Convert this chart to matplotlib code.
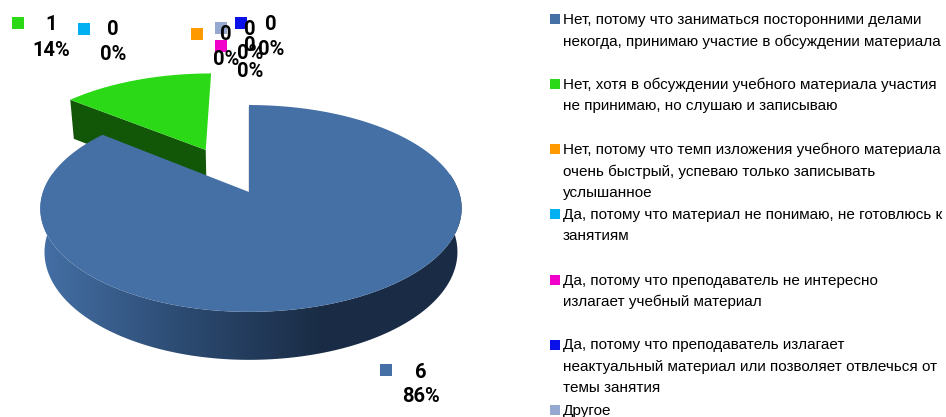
import numpy as np
import matplotlib
matplotlib.use('Agg')
import matplotlib.pyplot as plt
from matplotlib.patches import Polygon
from matplotlib.colors import LinearSegmentedColormap

# Survey answers
answers = [
    ['Нет, потому что заниматься посторонними делами', 'некогда, принимаю участие в обсуждении материала'],
    ['Нет, хотя в обсуждении учебного материала участия', 'не принимаю, но слушаю и записываю'],
    ['Нет, потому что темп изложения учебного материала', 'очень быстрый, успеваю только записывать', 'услышанное'],
    ['Да, потому что материал не понимаю, не готовлюсь к', 'занятиям'],
    ['Да, потому что преподаватель не интересно', 'излагает учебный материал'],
    ['Да, потому что преподаватель излагает', 'неактуальный материал или позволяет отвлечься от', 'темы занятия'],
    ['Другое'],
]
counts = [6, 1, 0, 0, 0, 0, 0]
percents = ['86%', '14%', '0%', '0%', '0%', '0%', '0%']

colors = ['#4570a6', '#2bd917', '#ff9900', '#00b0f0', '#f000c8', '#0a10e8', '#95a9d0']
explode = [0, 0.496, 0, 0, 0, 0, 0]

# Layout in pixels
legend_y = [19, 84, 149, 214, 279.5, 344.5, 410]
# square x, square y, text x, value y, percent y
label_pos = [
    (386, 370, 421, 372, 396),
    (17.5, 23, 51, 24, 50),
    (197, 33.5, 226, 34, 59),
    (84, 28.5, 113, 29, 54),
    (220.5, 45.5, 250, 45, 71),
    (241, 23, 271, 24, 49),
    (220.5, 27.5, 250, 29, 53),
]

# Perspective of the tilted pie
X0, Y0, A, H, K = 249, 192, 208, 100.8, 0.159


def project(u, v, bottom=False, skew=0, shift=0):
    w = 1 + K * v
    x = A * u / w
    y = H * v / w
    if bottom:
        return X0 + shift + 0.98 * x + skew * np.abs(u), Y0 + 42.9 - 1.0425 * y
    return X0 + shift + x + skew * np.abs(u), Y0 - y


fig = plt.figure(figsize=(9.46, 4.17), dpi=100)
ax = fig.add_axes([0, 0, 1, 1])

side_cmap = LinearSegmentedColormap.from_list('side', ['#4570a6', '#2c4b72', '#1a2c45', '#1a2c45'])

total = sum(counts)
start = 0
for i, c in enumerate(counts):
    if c == 0:
        continue
    frac = c / total
    t = np.linspace(start, start + frac, 300) * 2 * np.pi
    mid = (start + frac / 2) * 2 * np.pi
    du, dv = explode[i] * np.sin(mid), explode[i] * np.cos(mid)
    start += frac
    u = np.sin(t) + du
    v = np.cos(t) + dv
    if i == 0:
        tx, ty = project(u, v, skew=2)
        bx, by = project(u, v, bottom=True, skew=2)
        tipx, tipy = project(du, dv)
        # outer wall with a gradient, the top face hides its upper part
        keep = v < 0.2
        wall = np.column_stack([np.r_[tx[keep], bx[keep][::-1]], np.r_[ty[keep], by[keep][::-1]]])
        poly = Polygon(wall, closed=True, fc='none', ec='none')
        ax.add_patch(poly)
        grad = np.linspace(0, 1, 256).reshape(1, -1)
        im = ax.imshow(grad, cmap=side_cmap, extent=[40, 462, 417, 0], aspect='auto', zorder=2)
        im.set_clip_path(poly)
        ax.plot([tipx, tipx], [tipy, tipy - 85], color='#1a2c45', lw=0.9, zorder=3)
        ax.add_patch(Polygon(np.column_stack([np.r_[tipx, tx], np.r_[tipy, ty]]), closed=True,
                             fc=colors[i], ec='none', zorder=4))
    else:
        tx, ty = project(u, v, shift=-1.5)
        bx, by = project(u, v, bottom=True, shift=-1.5)
        tipx, tipy = project(du, dv, shift=-1.5)
        tipbx, tipby = project(du, dv, bottom=True, shift=-1.5)
        # cut wall from the tip to the left corner
        ax.add_patch(Polygon([(tipx, tipy), (tx[0], ty[0]), (bx[0], by[0]), (tipbx, tipby)],
                             closed=True, fc='#125707', ec='none', zorder=1))
        ax.add_patch(Polygon(np.column_stack([np.r_[tipx, tx], np.r_[tipy, ty]]), closed=True,
                             fc=colors[i], ec='none', zorder=1.5))

ax.set_xlim(0, 946)
ax.set_ylim(417, 0)
ax.axis('off')

# Data labels
for i, (sx, sy, lx, vy, py) in enumerate(label_pos):
    ax.scatter([sx], [sy], marker='s', s=74, color=colors[i], linewidths=0, zorder=5)
    ax.text(lx, vy, str(counts[i]), ha='center', va='center', fontsize=14.5, fontweight='bold',
            family='Roboto', color='black', zorder=6)
    ax.text(lx, py, percents[i], ha='center', va='center', fontsize=14.5, fontweight='bold',
            family='Roboto', color='black', zorder=6)

# Legend on the right
for i, lines in enumerate(answers):
    y = legend_y[i]
    ax.scatter([555], [y], marker='s', s=62, color=colors[i], linewidths=0, zorder=5)
    for j, line in enumerate(lines):
        ax.text(563, y + 1 + j * 21.4, line, ha='left', va='center', fontsize=11,
                family='Liberation Sans', color='black', zorder=6)

plt.savefig('out.png', dpi=100)
plt.close()
